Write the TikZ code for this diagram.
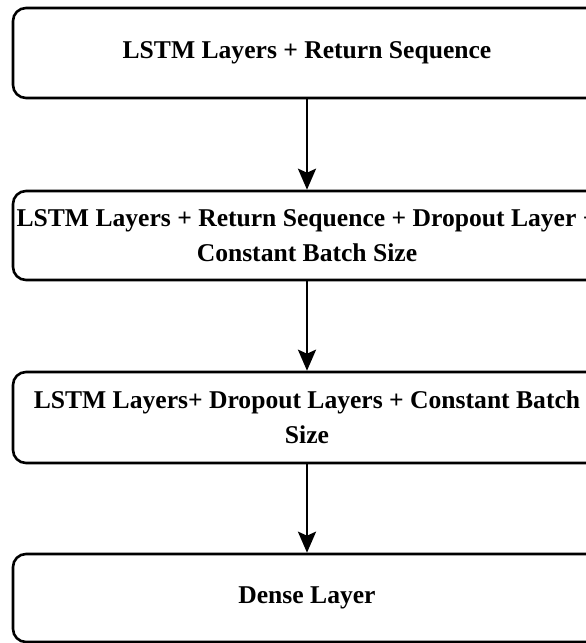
\documentclass[tikz,border=0pt]{standalone}
\usepackage{fontspec}
\setmainfont{Liberation Serif}
\usetikzlibrary{arrows.meta}
\begin{document}
\begin{tikzpicture}[x=1pt,y=-1pt,
  stage/.style={draw=black, line width=2.6pt, rounded corners=13pt, fill=white,
    minimum width=588pt, align=center, inner sep=0pt,
    font=\fontsize{25.6}{35}\selectfont\bfseries},
  flow/.style={line width=2.6pt, -{Stealth[length=21pt,width=18pt,inset=4pt]}}]
  \useasboundingbox (0,0) rectangle (586,643);
  \clip (0,0) rectangle (586,643);
  \fill[white] (0,0) rectangle (586,643);

  \node[stage, minimum height=90pt] (b1) at (307,53) {LSTM Layers + Return Sequence};
  \node[stage, minimum height=89pt] (b2) at (307,235.5)
    {LSTM Layers + Return Sequence + Dropout Layer +\\Constant Batch Size};
  \node[stage, minimum height=91pt] (b3) at (307,417.5)
    {LSTM Layers+ Dropout Layers + Constant Batch\\Size};
  \node[stage, minimum height=88pt] (b4) at (307,598) {Dense Layer};

  \draw[flow] (b1.south) -- (b2.north);
  \draw[flow] (b2.south) -- (b3.north);
  \draw[flow] (b3.south) -- (b4.north);
\end{tikzpicture}
\end{document}
